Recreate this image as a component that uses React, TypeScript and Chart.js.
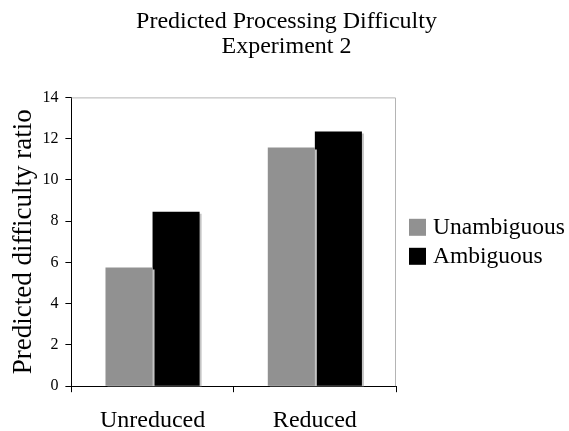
import React, { useEffect, useRef } from "react";
import { Chart, registerables } from "chart.js";

Chart.register(...registerables);

const categories = ["Unreduced", "Reduced"];
const unambiguous = [5.75, 11.57];
const ambiguous = [8.46, 12.35];
const seriesNames = ["Unambiguous", "Ambiguous"];
const seriesColors = ["#919191", "#000000"];
const titleLines = ["Predicted Processing Difficulty", "Experiment 2"];
const yTitle = "Predicted difficulty ratio";

const FONT = "'Liberation Serif', 'Times New Roman', serif";

const framePlugin = {
  id: "frame",
  beforeDatasetsDraw(chart: any) {
    const { ctx, chartArea } = chart;
    ctx.save();
    ctx.strokeStyle = "#b4b4b4";
    ctx.lineWidth = 1;
    ctx.beginPath();
    ctx.moveTo(chartArea.left, chartArea.top + 0.5);
    ctx.lineTo(chartArea.right - 0.5, chartArea.top + 0.5);
    ctx.lineTo(chartArea.right - 0.5, chartArea.bottom);
    ctx.stroke();
    ctx.restore();
    ctx.save();
    ctx.shadowColor = "#c4c4c4";
    ctx.shadowOffsetX = 2;
    ctx.shadowOffsetY = 2;
    ctx.shadowBlur = 0;
  },
  afterDatasetsDraw(chart: any) {
    chart.ctx.restore();
  },
  afterDraw(chart: any) {
    const { ctx, chartArea } = chart;
    const datasets = chart.data.datasets;
    const box = 17;
    const pitch = 29;
    const cy = (chartArea.top + chartArea.bottom) / 2;
    const x0 = chartArea.right + 13;
    ctx.save();
    ctx.font = `23.5px ${FONT}`;
    ctx.textBaseline = "middle";
    ctx.textAlign = "left";
    datasets.forEach((ds: any, i: number) => {
      const rowC = cy + (i - (datasets.length - 1) / 2) * pitch;
      ctx.fillStyle = ds.backgroundColor;
      ctx.fillRect(x0, rowC - box / 2, box, box);
      ctx.fillStyle = "#000";
      ctx.fillText(ds.label, x0 + box + 7, rowC + 1);
    });
    ctx.restore();
  },
};

export default function App() {
  const ref = useRef<HTMLCanvasElement | null>(null);
  useEffect(() => {
    if (!ref.current) return;
    const chart = new Chart(ref.current, {
      type: "bar",
      data: {
        labels: categories,
        datasets: [
          { label: seriesNames[0], data: unambiguous, backgroundColor: seriesColors[0], borderWidth: 0 },
          { label: seriesNames[1], data: ambiguous, backgroundColor: seriesColors[1], borderWidth: 0 },
        ],
      },
      options: {
        responsive: false,
        animation: false,
        devicePixelRatio: 1,
        layout: { padding: { top: 0, left: 4, right: 0, bottom: -18 } },
        datasets: { bar: { categoryPercentage: 0.58, barPercentage: 1 } },
        plugins: {
          title: {
            display: true,
            text: titleLines,
            color: "#000",
            font: { family: FONT, size: 24, weight: "normal", lineHeight: 1.05 },
            padding: { top: 9, bottom: 38 },
          },
          legend: { display: false },
          tooltip: { enabled: false },
        },
        scales: {
          x: {
            grid: { display: true, drawOnChartArea: false, drawTicks: true, tickLength: 6, color: "#000", offset: true },
            border: { display: true, color: "#000", width: 1 },
            ticks: { color: "#000", font: { family: FONT, size: 24 }, padding: 14 },
          },
          y: {
            min: 0,
            max: 14,
            grid: { display: true, drawOnChartArea: false, drawTicks: true, tickLength: 6, color: "#000" },
            border: { display: true, color: "#000", width: 1 },
            ticks: { stepSize: 2, color: "#000", font: { family: FONT, size: 16 }, padding: 7 },
            title: { display: true, text: yTitle, color: "#000", font: { family: FONT, size: 27 }, padding: { top: 4, bottom: -5 } },
          },
          legendSpace: {
            type: "linear",
            position: "right",
            display: true,
            grid: { display: false, drawTicks: false },
            border: { display: false },
            ticks: { display: false },
            afterFit: (scale: any) => {
              scale.width = 173;
            },
          },
        },
      },
      plugins: [framePlugin],
    });
    return () => chart.destroy();
  }, []);
  return (
    <div style={{ position: "fixed", left: 0, top: 0, width: 569, height: 431, background: "#fff" }}>
      <canvas ref={ref} width={569} height={431} />
    </div>
  );
}
